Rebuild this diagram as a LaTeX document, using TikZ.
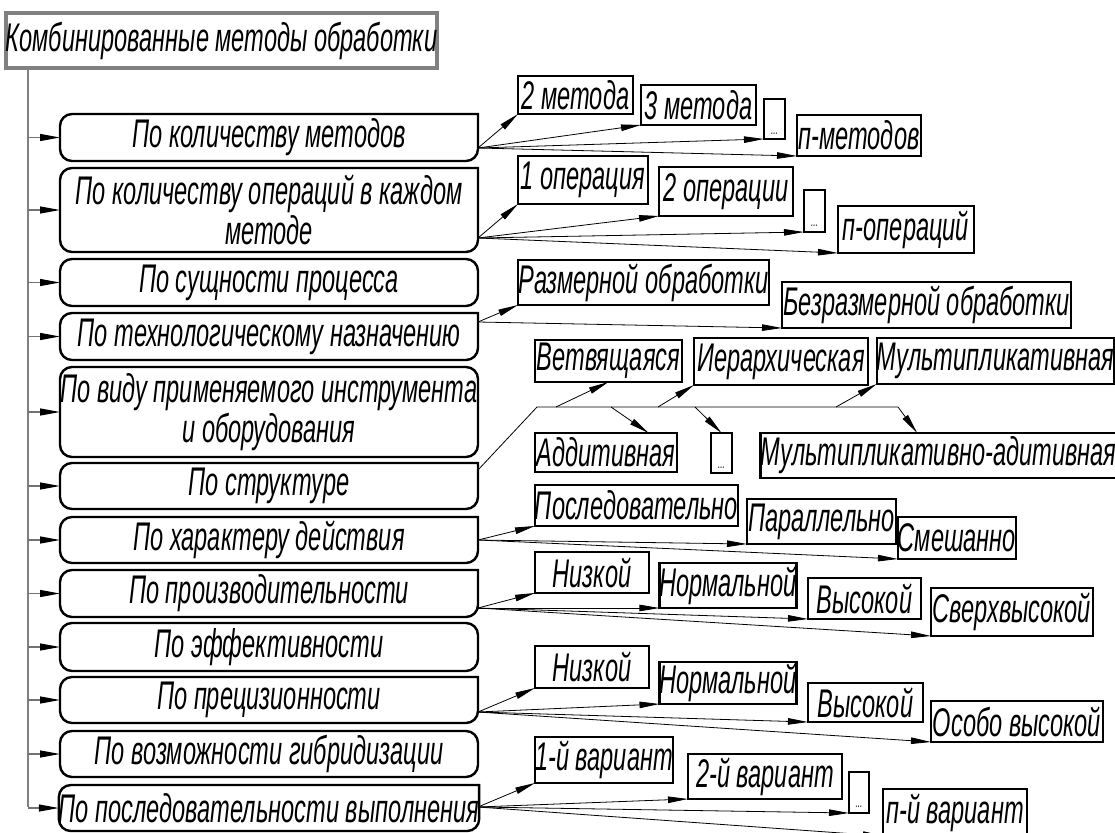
\documentclass[tikz,border=0pt]{standalone}
\usepackage{fontspec}
\newfontfamily\gost[FakeStretch=0.59]{Liberation Sans}
\usetikzlibrary{arrows.meta,calc}
\tikzset{
  gfont/.style={font=\gost\itshape\fontsize{40}{40}\selectfont},
  mainbox/.style={gfont, inner sep=0pt, outer sep=0pt, align=center},
  boxline/.style={line width=2.4pt, draw=black},
  roundbox/.style={mainbox, draw=black, line width=2.4pt, rounded corners=12pt},
  child/.style={gfont, draw=black, line width=2.4pt, inner sep=0pt, outer sep=0pt, fill=white},
  arr/.style={line width=0.8pt, draw=black, -{Triangle[length=20pt,width=6.5pt]}},
  bus/.style={line width=0.8pt, draw=black},
  trunk/.style={line width=1.2pt, draw=black!50},
  branch/.style={line width=1.2pt, draw=black!55, -{Triangle[length=20pt,width=7pt,black]}},
  titlebox/.style={gfont, draw=black!50, line width=4.5pt, inner sep=0pt, outer sep=0pt, fill=white}
}
\newcommand\place[7]{\node[#1, minimum width={#5-#3}, minimum height={#6-#4}] (#2) at ({(#3+#5)/2},{(#4+#6)/2}) {#7};}
\newcommand\halfbox[1]{\draw[boxline] (#1.north east) [rounded corners=12pt] -- (#1.north west) -- (#1.south west) -- (#1.south east) [sharp corners] -- cycle;}
\newcommand\dotstext{\raisebox{-15pt}[0pt][0pt]{\fontsize{14}{14}\selectfont ...}}
\begin{document}
\begin{tikzpicture}[x=1pt,y=-1pt]
\useasboundingbox (0,0) rectangle (1115,832);
% title
\place{titlebox}{title}{9}{13}{434}{68}{Комбинированные методы обработки}
\coordinate (t0) at (28,68);
\coordinate (t1) at (28,807);
\draw[trunk] (t0) -- (t1);
% main boxes
\place{mainbox}{b1}{60}{114}{478}{161}{По количеству методов} \halfbox{b1}
\place{mainbox}{b2}{60}{168}{478}{252}{По количеству операций в каждом\\методе} \halfbox{b2}
\place{roundbox}{b3}{60}{259}{478}{306}{По сущности процесса}
\place{mainbox}{b4}{60}{313}{478}{360}{По технологическому назначению} \halfbox{b4}
\place{roundbox}{b5}{60}{367}{478}{457}{По виду применяемого инструмента\\и оборудования}
\place{mainbox}{b6}{60}{463}{478}{509}{По структуре} \halfbox{b6}
\place{mainbox}{b7}{60}{517}{478}{563}{По характеру действия} \halfbox{b7}
\place{mainbox}{b8}{60}{570}{478}{617}{По производительности} \halfbox{b8}
\place{roundbox}{b9}{60}{623}{478}{671}{По эффективности}
\place{mainbox}{b10}{60}{677}{478}{723}{По прецизионности} \halfbox{b10}
\place{roundbox}{b11}{60}{731}{478}{777}{По возможности гибридизации}
\place{mainbox}{b12}{60}{785}{478}{831}{По последовательности выполнения} \halfbox{b12}
\foreach \b in {b1,b2,b3,b4,b5,b6,b7,b8,b9,b10,b11,b12}
  \draw[branch] (\b.west -| t0) -- (\b.west);
% group 1
\place{child}{c11}{518}{76}{633}{114}{2 метода}
\place{child}{c12}{641}{85}{756}{125}{3 метода}
\place{child}{c13}{764}{99}{785}{139}{\dotstext}
\place{child}{c14}{797}{115}{921}{156}{п-методов}
\coordinate (o1) at (478,148);
\foreach \c in {c11,c12,c13,c14} \draw[arr] (o1) -- (\c.south west);
% group 2
\place{child}{c21}{518}{156}{648}{204}{1 операция}
\place{child}{c22}{659}{167}{793}{216}{2 операции}
\place{child}{c23}{804}{190}{825}{232}{\dotstext}
\place{child}{c24}{838}{206}{974}{253}{п-операций}
\coordinate (o2) at (478,238);
\foreach \c in {c21,c22,c23,c24} \draw[arr] (o2) -- (\c.south west);
% group 4
\place{child}{c41}{518}{260}{769}{305}{Размерной обработки}
\place{child}{c42}{782}{282}{1071}{328}{Безразмерной обработки}
\coordinate (o4) at (478,322);
\foreach \c in {c41,c42} \draw[arr] (o4) -- (\c.south west);
% group 6
\place{child}{c61}{535}{340}{682}{382}{Ветвящаяся}
\place{child}{c62}{694}{338}{868}{385}{Иерархическая}
\place{child}{c63}{878}{338}{1113}{384}{Мультипликативная}
\place{child}{c64}{535}{433}{677}{472}{Аддитивная}
\place{child}{c65}{711}{433}{732}{473}{\dotstext}
\place{child}{c66}{764}{433}{1113}{478}{Мультипликативно-адитивная}
\coordinate (o6) at (478,470);
\coordinate (j1) at (537,407);
\coordinate (j2) at (898,407);
\draw[bus] (o6) -- (j1) -- (j2);
\coordinate (s61) at (556,407);
\coordinate (s62) at (658,407);
\coordinate (s63) at (836,407);
\coordinate (s64) at (611,407);
\coordinate (s65) at (695,407);
\draw[arr] (s61) -- (c61.south);
\draw[arr] (s62) -- (c62.south west);
\draw[arr] (s63) -- (c63.south west);
\draw[arr] (s64) -- ($(c64.north west)!0.8!(c64.north east)$);
\draw[arr] (s65) -- (c65.north);
\draw[arr] (j2) -- ($(c66.north west)!0.44!(c66.north east)$);
% group 7
\place{child}{c71}{535}{485}{738}{526}{Последовательно}
\place{child}{c72}{747}{499}{896}{544}{Параллельно}
\place{child}{c73}{906}{517}{1008}{559}{Смешанно}
\coordinate (o7) at (478,540);
\foreach \c in {c71,c72,c73} \draw[arr] (o7) -- (\c.south west);
% group 8
\place{child}{c81}{535}{552}{649}{593}{Низкой}
\place{child}{c82}{660}{563}{796}{608}{Нормальной}
\place{child}{c83}{808}{578}{921}{619}{Высокой}
\place{child}{c84}{931}{588}{1093}{636}{Сверхвысокой}
\coordinate (o8) at (478,608);
\foreach \c in {c81,c82,c83,c84} \draw[arr] (o8) -- (\c.south west);
% group 10
\place{child}{c101}{535}{646}{649}{688}{Низкой}
\place{child}{c102}{660}{662}{796}{704}{Нормальной}
\place{child}{c103}{808}{683}{923}{722}{Высокой}
\place{child}{c104}{931}{701}{1103}{742}{Особо высокой}
\coordinate (o10) at (478,712);
\foreach \c in {c101,c102,c103,c104} \draw[arr] (o10) -- (\c.south west);
% group 12
\place{child}{c121}{535}{737}{673}{783}{1-й вариант}
\place{child}{c122}{688}{754}{842}{799}{2-й вариант}
\place{child}{c123}{849}{772}{869}{813}{\dotstext}
\place{child}{c124}{883}{789}{1027}{836}{п-й вариант}
\coordinate (o12) at (478,807);
\foreach \c in {c121,c122,c123,c124} \draw[arr] (o12) -- (\c.south west);
\end{tikzpicture}
\end{document}
